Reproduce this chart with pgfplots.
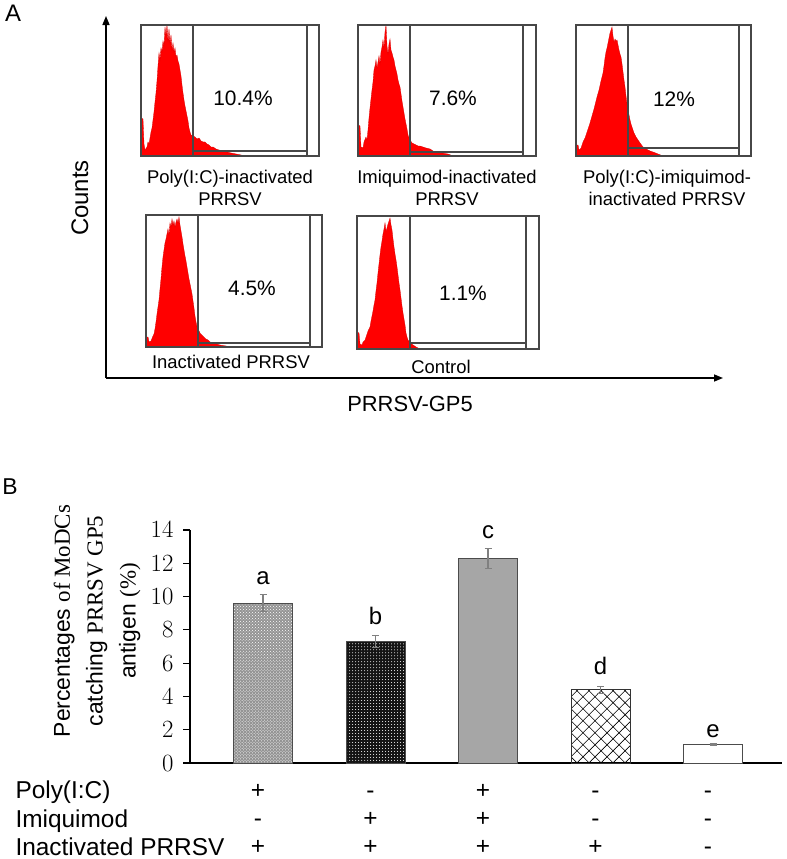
\documentclass[border=0pt]{standalone}
\usepackage{pgfplots}
\pgfplotsset{compat=1.18}
\usepackage{fontspec}
\setmainfont{Liberation Sans}
\newfontfamily\serif{Liberation Serif}
\usetikzlibrary{patterns,patterns.meta,arrows.meta}
\newcommand{\fs}[1]{\fontsize{#1}{1.2\dimexpr#1pt\relax}\selectfont}
\pgfplotsset{
  hist/.style={scale only axis, xmin=0, ymin=0, xtick=\empty, ytick=\empty,
    axis on top=true, axis line style={draw=black!72, line width=1.8bp}},
  histfill/.style={draw=red!85!black, line width=0.3bp, fill=red},
}
\tikzset{gate/.style={draw=black!72, line width=1.8bp}}
\begin{document}
\begin{tikzpicture}
\path[use as bounding box] (0,0) rectangle (787bp,-859bp);

% ---------- Panel A outer axes ----------
\begin{axis}[at={(106bp,-378bp)}, anchor=south west, scale only axis,
  width=617bp, height=362bp, xmin=0, xmax=1, ymin=0, ymax=1,
  axis lines=left, xtick=\empty, ytick=\empty,
  axis line style={line width=1.5bp, -{Triangle[length=9bp,width=7bp]}}]
\end{axis}

% ---------- Histogram 1 ----------
\begin{axis}[hist, at={(141bp,-25bp)}, anchor=north west, width=178bp, height=131bp, xmax=178, ymax=131]
\addplot[histfill] coordinates {(0,0) (0,38) (2,37) (3,12) (4,6) (6,9) (7,14) (8,12) (9,18) (10,24) (11,28) (12,36) (13,44) (14,54) (15,63) (16,75) (17,90) (18,103) (19,96) (20,108) (21,104) (22,115) (23,110) (24,129) (25,120) (26,131) (27,114) (28,127) (29,112) (30,121) (31,106) (32,113) (33,104) (34,108) (35,99) (36,101) (37,95) (38,92) (39,86) (40,80) (41,71) (42,63) (43,56) (44,50) (45,45) (46,40) (47,35) (48,28) (49,24) (50,21) (52,20) (54,19) (56,17) (58,18) (60,15) (62,14) (64,14) (66,12) (68,11) (70,9) (72,9) (75,7) (78,6) (82,5) (86,4) (90,3) (95,2) (100,1) (104,0)} \closedcycle;
\draw[gate] (axis cs:52,0) -- (axis cs:52,131);
\draw[gate] (axis cs:166,0) -- (axis cs:166,131);
\draw[gate] (axis cs:52,5) -- (axis cs:166,5);
\end{axis}

% ---------- Histogram 2 ----------
\begin{axis}[hist, at={(358bp,-25bp)}, anchor=north west, width=178bp, height=131bp, xmax=178, ymax=131]
\addplot[histfill] coordinates {(0,0) (0,31) (2,30) (3,9) (5,8) (6,14) (8,19) (9,16) (10,26) (11,38) (12,48) (13,57) (14,66) (15,74) (16,86) (17,90) (18,96) (19,88) (20,94) (21,100) (22,92) (23,104) (24,109) (25,116) (26,108) (27,124) (28,131) (29,110) (30,102) (31,112) (32,117) (33,106) (34,103) (35,99) (36,96) (37,90) (38,86) (39,82) (40,76) (41,72) (42,69) (43,62) (44,55) (45,49) (46,43) (47,37) (48,32) (49,27) (50,21) (51,18) (52,16) (54,13) (56,12) (58,11) (60,10) (62,10) (65,9) (68,8) (72,7) (75,5) (78,4) (84,3) (90,2) (95,0)} \closedcycle;
\draw[gate] (axis cs:52,0) -- (axis cs:52,131);
\draw[gate] (axis cs:165,0) -- (axis cs:165,131);
\draw[gate] (axis cs:52,4) -- (axis cs:165,4);
\end{axis}

% ---------- Histogram 3 ----------
\begin{axis}[hist, at={(576bp,-25bp)}, anchor=north west, width=175bp, height=131bp, xmax=175, ymax=131]
\addplot[histfill] coordinates {(0,0) (0,11) (2,11) (3,6) (5,8) (7,14) (9,18) (11,24) (13,30) (14,33) (16,40) (18,47) (20,55) (21,59) (23,66) (25,75) (27,83) (28,90) (29,98) (30,104) (31,108) (32,113) (33,118) (34,123) (35,126) (36,129) (37,120) (38,114) (39,117) (40,115) (41,116) (42,111) (43,106) (44,102) (45,99) (46,92) (47,84) (48,76) (49,69) (50,60) (51,52) (52,46) (53,41) (54,36) (55,32) (56,29) (58,23) (60,19) (62,16) (64,13) (67,9) (70,7) (74,5) (77,4) (82,2) (87,0)} \closedcycle;
\draw[gate] (axis cs:52,0) -- (axis cs:52,131);
\draw[gate] (axis cs:163,0) -- (axis cs:163,131);
\draw[gate] (axis cs:52,8) -- (axis cs:163,8);
\end{axis}

% ---------- Histogram 4 ----------
\begin{axis}[hist, at={(146bp,-215bp)}, anchor=north west, width=176bp, height=132bp, xmax=176, ymax=132]
\addplot[histfill] coordinates {(0,0) (0,10) (2,10) (3,5) (5,6) (7,11) (8,13) (9,18) (10,25) (11,33) (12,40) (13,47) (14,58) (15,68) (16,80) (17,90) (18,97) (19,104) (20,108) (21,113) (22,118) (23,112) (24,124) (25,120) (26,128) (27,122) (28,126) (29,120) (30,125) (31,128) (32,124) (33,130) (34,122) (35,116) (36,110) (37,103) (38,97) (39,91) (40,86) (41,80) (42,74) (43,68) (44,63) (45,58) (46,53) (47,46) (48,39) (49,31) (50,25) (51,20) (52,18) (54,14) (56,12) (58,10) (60,8) (62,7) (64,5) (68,4) (74,2) (80,1) (84,0)} \closedcycle;
\draw[gate] (axis cs:52,0) -- (axis cs:52,132);
\draw[gate] (axis cs:164,0) -- (axis cs:164,132);
\draw[gate] (axis cs:52,4) -- (axis cs:164,4);
\end{axis}

% ---------- Histogram 5 ----------
\begin{axis}[hist, at={(357bp,-216bp)}, anchor=north west, width=182bp, height=133bp, xmax=182, ymax=133]
\addplot[histfill] coordinates {(0,0) (0,17) (2,16) (3,5) (5,4) (6,7) (8,9) (9,12) (10,15) (11,18) (12,20) (13,22) (14,28) (15,33) (16,38) (17,44) (18,49) (19,58) (20,66) (21,76) (22,85) (23,94) (24,102) (25,108) (26,115) (27,120) (28,126) (29,118) (30,121) (31,125) (32,128) (33,131) (34,124) (35,119) (36,110) (37,102) (38,95) (39,89) (40,82) (41,74) (42,66) (43,59) (44,51) (45,43) (46,36) (47,30) (48,24) (49,16) (50,12) (51,9) (53,6) (56,4) (59,2) (63,0)} \closedcycle;
\draw[gate] (axis cs:53,0) -- (axis cs:53,133);
\draw[gate] (axis cs:169,0) -- (axis cs:169,133);
\draw[gate] (axis cs:53,6) -- (axis cs:169,6);
\end{axis}

% ---------- Panel A texts ----------
\node[font=\fs{24}] at (13bp,-13bp) {A};
\node[font=\fs{24}, rotate=90] at (80bp,-198bp) {Counts};
\node[font=\fs{22}] at (410bp,-404bp) {PRRSV-GP5};
\begin{scope}[every node/.style={font=\fontsize{18.5}{21.5}\selectfont, align=center}]
\node at (230bp,-188bp) {Poly(I:C)-inactivated\\PRRSV};
\node at (447bp,-188bp) {Imiquimod-inactivated\\PRRSV};
\node at (667bp,-188bp) {Poly(I:C)-imiquimod-\\inactivated PRRSV};
\node at (231bp,-362bp) {Inactivated PRRSV};
\node at (441bp,-367bp) {Control};
\end{scope}
\begin{scope}[every node/.style={font=\fs{21}}]
\node at (243bp,-98bp) {10.4\%};
\node at (453bp,-98bp) {7.6\%};
\node at (674bp,-99bp) {12\%};
\node at (252bp,-288bp) {4.5\%};
\node at (463bp,-293bp) {1.1\%};
\end{scope}

% ---------- Panel B ----------
\node[font=\fs{23}] at (10bp,-487bp) {B};
\node[rotate=90, align=center, font=\fontsize{23}{33}\selectfont] at (97bp,-621bp)
  {Percentages {\serif of MoDCs}\\catching {\serif PRRSV GP5}\\antigen {\serif(\%)}};

\begin{axis}[at={(190bp,-763bp)}, anchor=south west, scale only axis,
  width=592bp, height=233bp, xmin=-0.649, xmax=4.613, ymin=0, ymax=14,
  axis x line=bottom, axis y line=left, axis line style={line width=1.2bp, -},
  ybar, bar width=59bp, bar shift=0pt, clip=false,
  ytick={0,2,...,14}, tick align=outside, major tick length=7bp,
  y tick style={line width=1.2bp, black},
  yticklabel style={font=\fontsize{23.5}{23.5}\selectfont, xshift=-6bp},
  xtick={0,1,2,3,4}, x tick style={draw=none},
  xticklabels={{\strut+\\\strut-\\\strut+},{\strut-\\\strut+\\\strut+},{\strut+\\\strut+\\\strut+},{\strut-\\\strut-\\\strut+},{\strut-\\\strut-\\\strut-}},
  xticklabel style={align=center, font=\fontsize{24.5}{28.5}\selectfont, anchor=north, inner sep=0pt, yshift=-8bp, xshift=-5bp},
  ]
\addplot[draw=black!70, line width=0.8bp, fill=black!42, postaction={pattern=crosshatch dots, pattern color=white}] coordinates {(0,9.6)};
\addplot[draw=black!70, line width=0.8bp, fill=black!92, postaction={pattern=dots, pattern color=white}] coordinates {(1,7.3)};
\addplot[draw=black!70, line width=0.8bp, fill=black!35] coordinates {(2,12.3)};
\addplot[draw=black!80, line width=0.8bp, fill=white, pattern={Lines[angle=45,distance=8.5bp,line width=0.6bp]}, postaction={pattern={Lines[angle=-45,distance=8.5bp,line width=0.6bp]}}] coordinates {(3,4.4)};
\addplot[draw=black!70, line width=0.8bp, fill=white] coordinates {(4,1.1)};
\addplot[draw=none, fill=none, error bars/.cd, y dir=both, y explicit,
  error bar style={draw=gray, line width=1.1bp},
  error mark options={draw=gray, rotate=90, mark size=3.5bp, line width=1.1bp}]
  coordinates {(0,9.6) +- (0,0.5) (1,7.3) +- (0,0.35) (2,12.3) +- (0,0.6) (3,4.4) +- (0,0.2) (4,1.1) +- (0,0.04)};
\begin{scope}[every node/.style={font=\fs{24}, anchor=base}]
\node at (axis cs:0,10.7) {a};
\node at (axis cs:1,8.35) {b};
\node at (axis cs:2,13.5) {c};
\node at (axis cs:3,5.29) {d};
\node at (axis cs:4,1.56) {e};
\end{scope}
\end{axis}
\begin{scope}[every node/.style={font=\fontsize{24.5}{28.5}\selectfont, anchor=base west}]
\node at (12bp,-798bp) {Poly(I:C)};
\node at (12bp,-827bp) {Imiquimod};
\node at (12bp,-855bp) {Inactivated PRRSV};
\end{scope}
\end{tikzpicture}
\end{document}
